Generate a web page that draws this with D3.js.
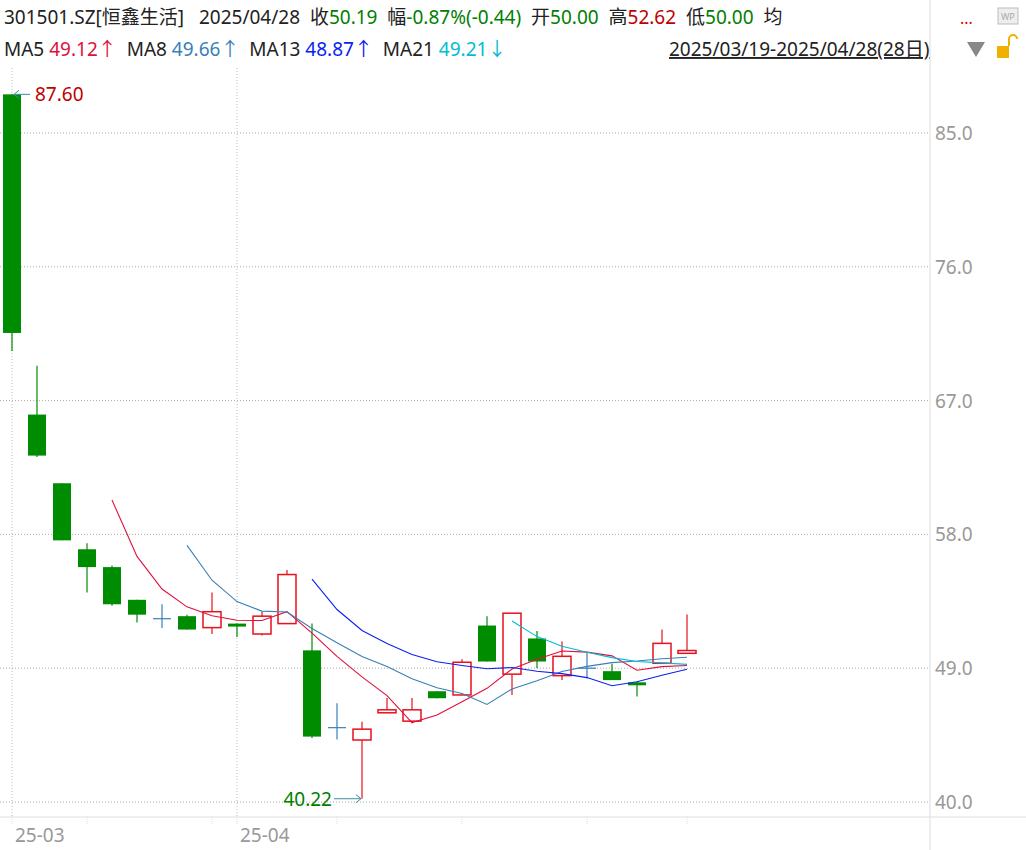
<!DOCTYPE html>
<html><head><meta charset="utf-8">
<script src="https://cdn.jsdelivr.net/npm/d3@7"></script>
<style>body{margin:0;background:#fff;font-family:"Noto Sans","Noto Sans CJK SC",sans-serif}</style>
</head><body><svg id="c" width="1026" height="850"></svg>
<script>
const dates=["03-19","03-20","03-21","03-24","03-25","03-26","03-27","03-28","03-31","04-01","04-02","04-03","04-07","04-08","04-09","04-10","04-11","04-14","04-15","04-16","04-17","04-18","04-21","04-22","04-23","04-24","04-25","04-28"];
const open =[87.60,66.06,61.44,57.0,55.8,53.6,52.33,52.5,51.73,52.0,51.3,52.0,50.2,45.0,44.17,46.0,45.44,47.45,47.2,51.87,48.6,51.0,48.5,49.0,48.8,48.05,49.33,50.00];
const close=[71.55,63.3,57.6,55.8,53.3,52.6,52.33,51.6,52.8,51.8,52.5,55.3,44.4,45.0,44.9,46.2,46.2,46.98,49.4,49.45,52.7,49.45,49.8,49.0,48.2,47.85,50.67,50.19];
const high =[87.60,69.34,61.44,57.4,55.9,53.6,53.3,52.6,54.1,52.0,52.8,55.6,52.0,46.65,45.4,47.0,47.0,47.45,49.6,52.5,52.7,51.5,50.8,50.1,49.3,48.1,51.6,52.62];
const low  =[70.34,63.2,57.6,54.1,53.2,52.07,51.7,51.6,51.3,51.1,51.2,52.0,44.3,44.2,40.22,46.0,45.3,46.98,47.2,49.45,47.2,49.0,48.2,48.3,48.2,47.1,49.33,50.00];
const yTicks=[40,49,58,67,76,85];
const maDefs=[{n:5,c:"#e0103c"},{n:8,c:"#3a7fb8"},{n:13,c:"#0a22f0"},{n:21,c:"#00bcd4"}];

const svg=d3.select("#c");
const x=d3.scaleLinear().domain([0,27]).range([12,687]);
const y=d3.scaleLinear().domain([40,85]).range([802,133]);
const R=930,B=817;
// grid
svg.append("g").selectAll("line").data(yTicks).join("line")
 .attr("x1",0).attr("x2",R).attr("y1",d=>y(d)).attr("y2",d=>y(d))
 .attr("stroke","#aaa").attr("stroke-dasharray","1,2");
svg.append("g").selectAll("line").data([0,9]).join("line")
 .attr("x1",d=>x(d)).attr("x2",d=>x(d)).attr("y1",68).attr("y2",B)
 .attr("stroke","#bbb").attr("stroke-dasharray","1,2");
svg.append("line").attr("x1",R).attr("x2",R).attr("y1",0).attr("y2",850).attr("stroke","#ddd");
svg.append("line").attr("x1",0).attr("x2",1026).attr("y1",B).attr("y2",B).attr("stroke","#ddd");
svg.append("g").selectAll("text").data(yTicks).join("text")
 .attr("x",935).attr("y",d=>y(d)+7).text(d=>d.toFixed(1)).attr("fill","#999").attr("font-size",19);
// x ticks
svg.append("g").selectAll("line").data([0,3,8,9,13,18,23,27]).join("line")
 .attr("x1",d=>x(d)).attr("x2",d=>x(d)).attr("y1",B).attr("y2",B+8).attr("stroke","#ddd").attr("stroke-dasharray","1,1");
svg.append("g").selectAll("text").data([0,9]).join("text")
 .attr("x",d=>x(d)+3).attr("y",842).text(d=>"25-"+dates[d].slice(0,2)).attr("fill","#999").attr("font-size",19);
// candles
const w=18;
const g=svg.append("g");
dates.forEach((d,i)=>{
  const up=close[i]>open[i], flat=close[i]===open[i];
  const col=flat?"#3a7fb8":(up?"#e8101c":"#008c00");
  g.append("line").attr("x1",x(i)).attr("x2",x(i)).attr("y1",y(high[i])).attr("y2",y(low[i])).attr("stroke",col).attr("stroke-width",1.2);
  const t=y(Math.max(open[i],close[i])),b=y(Math.min(open[i],close[i]));
  if(flat){g.append("line").attr("x1",x(i)-w/2).attr("x2",x(i)+w/2).attr("y1",t).attr("y2",t).attr("stroke",col).attr("stroke-width",1.2);}
  else g.append("rect").attr("x",x(i)-w/2).attr("y",t).attr("width",w).attr("height",Math.max(b-t,1.5))
   .attr("fill",up?"#fff":col).attr("stroke",col).attr("stroke-width",up?1.5:0);
});
// MAs
maDefs.forEach(m=>{
  const pts=[];
  for(let i=m.n-1;i<close.length;i++){pts.push([i,d3.mean(close.slice(i-m.n+1,i+1))]);}
  svg.append("path").attr("d",d3.line().x(p=>x(p[0])).y(p=>y(p[1]))(pts)).attr("fill","none").attr("stroke",m.c).attr("stroke-width",1.1);
});
// annotations
const hi=0,lo=14;
svg.append("path").attr("d",`M${x(hi)+18},${y(87.6)} L${x(hi)+2},${y(87.6)} M${x(hi)+7},${y(87.6)-4} L${x(hi)+2},${y(87.6)} L${x(hi)+7},${y(87.6)+4}`).attr("stroke","#3a8fa0").attr("fill","none");
svg.append("text").attr("x",x(hi)+23).attr("y",y(87.6)+7).text("87.60").attr("fill","#c00000").attr("font-size",19);
svg.append("path").attr("d",`M${x(lo)-28},${y(40.22)} L${x(lo)-1},${y(40.22)} M${x(lo)-6},${y(40.22)-4} L${x(lo)-1},${y(40.22)} L${x(lo)-6},${y(40.22)+4}`).attr("stroke","#3a8fa0").attr("fill","none");
svg.append("text").attr("x",x(lo)-30).attr("y",y(40.22)+7).attr("text-anchor","end").text("40.22").attr("fill","#008000").attr("font-size",19);
// header
const h1=svg.append("text").attr("x",4).attr("y",24).attr("font-size",19);
[["301501.SZ[恒鑫生活]   2025/04/28  收","#222"],["50.19","#008000"],["  幅","#222"],["-0.87%(-0.44)","#008000"],["  开","#222"],["50.00","#008000"],["  高","#222"],["52.62","#c00000"],["  低","#222"],["50.00","#008000"],["  均","#222"]]
 .forEach(s=>h1.append("tspan").text(s[0]).attr("fill",s[1]).attr("xml:space","preserve").style("white-space","pre"));
svg.append("text").attr("x",960).attr("y",24).text("...").attr("fill","#e00").attr("font-size",16);
svg.append("rect").attr("x",998).attr("y",8).attr("width",20).attr("height",16).attr("fill","#eee").attr("stroke","#bbb");
svg.append("text").attr("x",1001).attr("y",20).text("WP").attr("fill","#aaa").attr("font-size",9);
const h2=svg.append("text").attr("x",4).attr("y",56).attr("font-size",19);
[["MA5 ","#222"],["49.12↑","#e0103c"],["  MA8 ","#222"],["49.66↑","#3a7fb8"],["  MA13 ","#222"],["48.87↑","#0a22f0"],["  MA21 ","#222"],["49.21↓","#00bcd4"]]
 .forEach(s=>h2.append("tspan").text(s[0]).attr("fill",s[1]).style("white-space","pre"));
svg.append("text").attr("x",669).attr("y",56).text("2025/03/19-2025/04/28(28日)").attr("fill","#222").attr("font-size",19).attr("text-decoration","underline");
svg.append("path").attr("d","M967,42 L985,42 L976,57 Z").attr("fill","#888");
svg.append("rect").attr("x",997).attr("y",46).attr("width",12).attr("height",12).attr("fill","#f0b000");
svg.append("path").attr("d","M1009,46 L1009,39 A4,4 0 0 1 1017,39").attr("fill","none").attr("stroke","#f0b000").attr("stroke-width",2);
</script></body></html>
